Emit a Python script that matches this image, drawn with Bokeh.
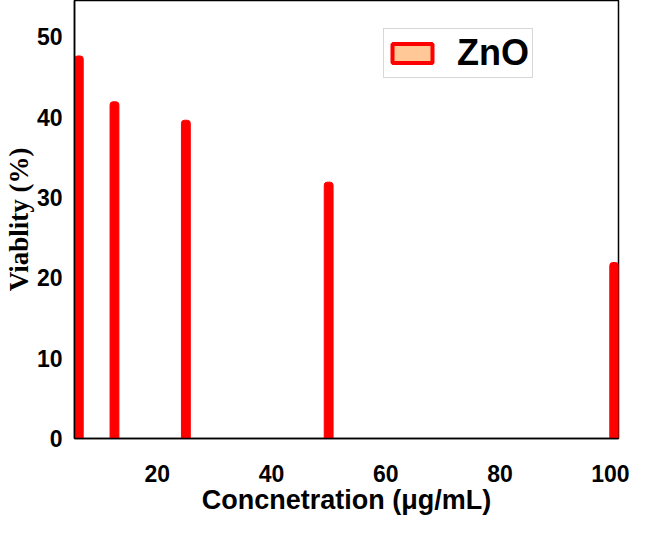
from bokeh.plotting import figure
from bokeh.models import Range1d, FixedTicker, Legend, LegendItem, ColumnDataSource
from bokeh.embed import file_html
from bokeh.resources import INLINE

concentration = [6.25, 12.5, 25, 50, 100]
viability = [47.6, 41.9, 39.6, 31.9, 21.9]
series_name = "ZnO"
x_ticks = [20, 40, 60, 80, 100]
y_ticks = [0, 10, 20, 30, 40, 50]

p = figure(width=629, height=517, output_backend="svg", toolbar_location=None,
           x_range=Range1d(5.5, 100.75), y_range=Range1d(0, 54.5))
p.min_border_left = 60
p.min_border_right = 11
p.min_border_top = 0
p.min_border_bottom = 10
p.background_fill_color = "white"
p.grid.visible = False
p.outline_line_color = "black"
p.outline_line_width = 1.5

src = ColumnDataSource(dict(x=concentration, top=viability))
p.vbar(x="x", top="top", bottom=0, width=1.55, source=src,
       fill_color="#ff0000", line_color="#ff0000", line_width=1,
       border_radius=(3, 3, 0, 0))

# legend swatch proxy (placed outside the visible x range)
swatch = ColumnDataSource(dict(x=[-50], top=[1]))
dummy = p.vbar(x="x", top="top", width=1, source=swatch,
               fill_color="#ffc896", line_color="#ff0000", line_width=4)
legend = Legend(items=[LegendItem(label=series_name, renderers=[dummy])],
                location=(309, 360))
legend.label_text_font = "Liberation Sans"
legend.label_text_font_style = "bold"
legend.label_text_font_size = "36px"
legend.label_text_color = "black"
legend.label_height = 26
legend.border_line_color = "#b0b0b0"
legend.border_line_width = 1
legend.glyph_width = 50
legend.glyph_height = 24
legend.padding = 3
legend.margin = 0
legend.spacing = 0
legend.label_standoff = 20
legend.background_fill_alpha = 1
p.add_layout(legend, "center")

for ax in (p.xaxis[0], p.yaxis[0]):
    ax.axis_line_color = "black"
    ax.axis_line_width = 1.5
    ax.major_tick_line_color = None
    ax.minor_tick_line_color = None
    ax.major_tick_out = 0
    ax.major_tick_in = 0
    ax.major_label_text_font = "Liberation Sans"
    ax.major_label_text_font_style = "bold"
    ax.major_label_text_font_size = "23px"
    ax.major_label_text_color = "black"

p.xaxis.ticker = FixedTicker(ticks=x_ticks)
p.yaxis.ticker = FixedTicker(ticks=y_ticks)
p.xaxis.major_label_standoff = 26
p.yaxis.major_label_standoff = 12

p.xaxis.axis_label = "Concnetration (μg/mL)"
p.xaxis.axis_label_text_font = "Liberation Sans"
p.xaxis.axis_label_text_font_style = "bold"
p.xaxis.axis_label_text_font_size = "27px"
p.xaxis.axis_label_text_color = "black"
p.xaxis.axis_label_standoff = 0

p.yaxis.axis_label = "Viablity (%)"
p.yaxis.axis_label_text_font = "Liberation Serif"
p.yaxis.axis_label_text_font_style = "bold"
p.yaxis.axis_label_text_font_size = "27px"
p.yaxis.axis_label_text_color = "black"
p.yaxis.axis_label_standoff = 0

open("out.html", "w").write(file_html(p, INLINE))
